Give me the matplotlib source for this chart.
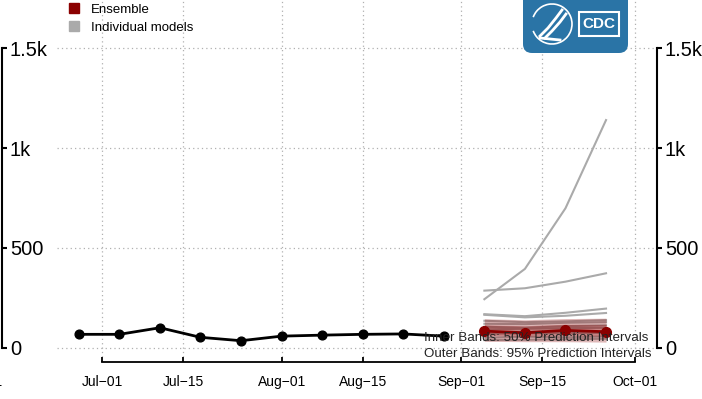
import matplotlib
matplotlib.use("Agg")
import matplotlib.pyplot as plt
import matplotlib.dates as mdates
from matplotlib.lines import Line2D
from matplotlib.patches import FancyBboxPatch, Rectangle, Arc
import pandas as pd

plt.rcParams['font.family'] = ['Liberation Sans', 'DejaVu Sans']

# observed weekly values
obs_dates = pd.to_datetime(['2020-06-27', '2020-07-04', '2020-07-11', '2020-07-18', '2020-07-25',
                            '2020-08-01', '2020-08-08', '2020-08-15', '2020-08-22', '2020-08-29'])
obs_vals = [67, 67, 100, 52, 35, 58, 63, 67, 69, 58]

# forecast weeks
fc_dates = pd.to_datetime(['2020-09-05', '2020-09-12', '2020-09-19', '2020-09-26'])
ens_median = [83, 75, 87, 80]
ens_50_lo = [62, 58, 62, 58]
ens_50_hi = [115, 110, 118, 116]
ens_95_lo = [32, 30, 30, 28]
ens_95_hi = [145, 140, 146, 148]

model_a = [243, 395, 699, 1141]
model_b = [286, 298, 331, 373]
model_c = [168, 158, 175, 196]
model_d = [165, 152, 160, 174]
model_e = [135, 128, 132, 138]
model_f = [120, 118, 125, 128]
model_g = [105, 100, 108, 112]
model_h = [92, 95, 98, 100]
model_i = [70, 72, 75, 74]
model_j = [50, 55, 52, 56]
model_k = [38, 40, 42, 45]
models = [model_a, model_b, model_c, model_d, model_e, model_f,
          model_g, model_h, model_i, model_j, model_k]

tick_dates = pd.to_datetime(['2020-07-01', '2020-07-15', '2020-08-01', '2020-08-15',
                             '2020-09-01', '2020-09-15', '2020-10-01'])
y_ticks = [0, 500, 1000, 1500]
y_labels = ['0', '500', '1k', '1.5k']


def date_label(d):
    return d.strftime('%b-%d').replace('-', '\u2212')


W, H = 702, 399
fig = plt.figure(figsize=(W / 100, H / 100), dpi=100)

# main panel, pixel box x 57..657, y 0..357
ax = fig.add_axes([57 / W, (H - 357) / H, 600 / W, 357 / H])
jul1 = mdates.date2num(tick_dates[0])
oct1 = mdates.date2num(tick_dates[-1])
ppd = (635 - 102) / (oct1 - jul1)
ax.set_xlim(jul1 - 45 / ppd, oct1 + 22 / ppd)
ax.set_ylim(-9.3 / 0.1995, 347.7 / 0.1995)

for m in models:
    ax.plot(fc_dates, m, color='#aaaaaa', lw=1.5, zorder=2)
ax.fill_between(fc_dates, ens_95_lo, ens_95_hi, color='#8b0000', alpha=0.28, lw=0, zorder=3)
ax.fill_between(fc_dates, ens_50_lo, ens_50_hi, color='#8b0000', alpha=0.28, lw=0, zorder=3)
ax.plot(fc_dates, ens_median, color='#8b0000', lw=2, marker='o', ms=7, zorder=4)
ax.plot(obs_dates, obs_vals, color='black', lw=2, marker='o', ms=6.3, zorder=4)

ax.set_xticks(tick_dates)
ax.set_xticklabels([date_label(d) for d in tick_dates], fontsize=11)
ax.yaxis.tick_right()
ax.set_yticks(y_ticks)
ax.set_yticklabels(y_labels, fontsize=14.5)
ax.grid(True, linestyle=(0, (1, 2.5)), color='#b0b0b0', lw=0.9)
ax.set_axisbelow(True)

for s in ['top', 'left']:
    ax.spines[s].set_visible(False)
ax.spines['bottom'].set_position(('outward', 3.6))
ax.spines['bottom'].set_bounds(jul1, oct1)
ax.spines['bottom'].set_linewidth(1.3)
ax.spines['right'].set_bounds(0, 1500)
ax.spines['right'].set_linewidth(1.5)
ax.tick_params(axis='x', direction='in', length=3.6, width=1.3, pad=9.5)
ax.tick_params(axis='y', direction='out', length=3.6, width=1.5, pad=2)

ax.text(0.985, 0.053, 'Inner Bands: 50% Prediction Intervals', transform=ax.transAxes,
        ha='right', va='center', fontsize=9.6, color='#222222', zorder=5)
ax.text(0.99, 0.008, 'Outer Bands: 95% Prediction Intervals', transform=ax.transAxes,
        ha='right', va='center', fontsize=9.6, color='#222222', zorder=5)

# neighbouring panel cut at the left edge
ax0 = fig.add_axes([(2 - 600) / W, (H - 357) / H, 600 / W, 357 / H])
ax0.set_xlim(ax.get_xlim())
ax0.set_ylim(ax.get_ylim())
ax0.set_xticks([tick_dates[-1]])
ax0.set_xticklabels([date_label(tick_dates[-1])], fontsize=11)
ax0.yaxis.tick_right()
ax0.set_yticks(y_ticks)
ax0.set_yticklabels(y_labels, fontsize=14.5)
for s in ['top', 'left']:
    ax0.spines[s].set_visible(False)
ax0.spines['bottom'].set_position(('outward', 3.6))
ax0.spines['bottom'].set_bounds(jul1, oct1)
ax0.spines['right'].set_bounds(0, 1500)
ax0.spines['right'].set_linewidth(1.5)
ax0.tick_params(axis='x', direction='in', length=3.6, width=1.3, pad=9.5)
ax0.tick_params(axis='y', direction='out', length=3.6, width=1.5, pad=2)

handles = [Line2D([], [], ls='none', marker='s', ms=7, color='#8b0000', label='Ensemble'),
           Line2D([], [], ls='none', marker='s', ms=7, color='#aaaaaa', label='Individual models')]
fig.legend(handles=handles, loc='upper left', bbox_to_anchor=(66 / W, 1 - 2 / H), frameon=False,
           fontsize=9.5, handlelength=1.0, handletextpad=0.8, labelspacing=0.45,
           borderaxespad=0, borderpad=0.1)

# CDC badge
ov = fig.add_axes([0, 0, 1, 1])
ov.set_xlim(0, W)
ov.set_ylim(H, 0)
ov.axis('off')
blue = '#2a74a6'
ov.add_patch(FancyBboxPatch((523, -20), 105, 73, boxstyle='round,pad=0,rounding_size=9',
                            fc=blue, ec='none'))
ov.add_patch(Arc((552, 24), 40, 40, theta1=200, theta2=520, color='white', lw=1.2))
ov.plot([540, 548, 556, 562], [36, 28, 18, 10], color='white', lw=2)
ov.plot([545, 552, 560, 566], [38, 31, 22, 14], color='white', lw=2)
ov.plot([540, 560], [38, 40], color='white', lw=2)
ov.add_patch(Rectangle((579, 12), 40, 24, fc='none', ec='white', lw=1.5))
ov.text(599, 24, 'CDC', color='white', fontsize=11, fontweight='bold', ha='center', va='center')

fig.savefig('out.png', dpi=100)
